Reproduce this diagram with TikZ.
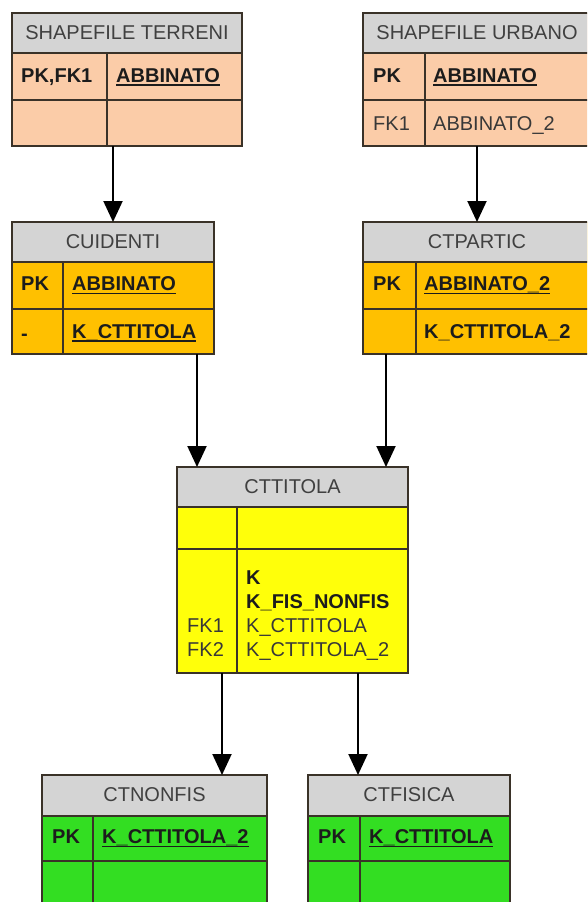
\documentclass[tikz,border=0pt]{standalone}
\usepackage{fontspec}
\setmainfont{Liberation Sans}
\usetikzlibrary{arrows.meta}

\definecolor{hdrgray}{HTML}{D4D4D4}
\definecolor{hdrtext}{HTML}{404040}
\definecolor{peach}{HTML}{FBCCA8}
\definecolor{amber}{HTML}{FFC000}
\definecolor{lemon}{HTML}{FFFF0A}
\definecolor{lime}{HTML}{33DE22}
\definecolor{edge}{HTML}{3A3228}
\definecolor{keytext}{HTML}{1C1C1C}
\definecolor{plaintext}{HTML}{383838}

% underline drawn at a fixed depth, so it merges with the underscores
\newsavebox\ulbox
\newcommand\ulname[1]{\sbox\ulbox{#1}\rlap{\rule[-3.5pt]{\wd\ulbox}{1.5pt}}\usebox\ulbox}

% table frame: name, left, top, right, column x, header bottom, row-1 bottom, bottom, fill
\newcommand\frametable[9]{%
  \node[tablebox, fill=#9, minimum width={#4pt-#2pt}, minimum height={#8pt-#3pt}] (#1) at (#2,#3) {};
  \fill[hdrgray] (#1.north west) rectangle (#4,#6);
  \draw[rule] (#2,#6) -- (#4,#6) (#2,#7) -- (#4,#7) (#5,#6) -- (#5,#8);
  \draw[rule] (#1.north west) rectangle (#1.south east);
}

\begin{document}
\begin{tikzpicture}[
  x=1pt, y=-1pt,
  tablebox/.style={anchor=north west, inner sep=0pt, outer sep=0pt, draw=none},
  rule/.style={draw=edge, line width=1.5pt},
  title/.style={anchor=base, inner sep=0pt, text=hdrtext, font=\fontsize{20}{24}\selectfont},
  keyt/.style={anchor=base west, inner sep=0pt, text=keytext, font=\fontsize{20}{24}\selectfont\bfseries},
  plain/.style={anchor=base west, inner sep=0pt, text=plaintext, font=\fontsize{20}{24}\selectfont},
  flow/.style={draw=black, line width=2pt, -{Triangle[length=21pt,width=19pt]}},
]
\useasboundingbox (0,0) rectangle (587,902);
\clip (0,0) rectangle (587,902);

% source shapefiles
\frametable{terreni}{12}{13}{242}{107}{53}{100}{146}{peach}
\frametable{urbano}{363}{13}{591}{425}{53}{100}{146}{peach}
% intermediate tables
\frametable{cuidenti}{12}{222}{214}{63}{262}{309}{354}{amber}
\frametable{ctpartic}{363}{222}{591}{416}{262}{309}{354}{amber}
% central table
\frametable{cttitola}{177}{467}{408}{237}{507}{549}{673}{lemon}
% subject tables
\frametable{ctnonfis}{42}{775}{267}{93}{816}{861}{920}{lime}
\frametable{ctfisica}{308}{775}{510}{360}{816}{861}{920}{lime}

% titles
\node[title] (terreni-t) at (127,39.5) {SHAPEFILE TERRENI};
\node[title] (urbano-t) at (477,39.5) {SHAPEFILE URBANO};
\node[title] (cuidenti-t) at (113,248.5) {CUIDENTI};
\node[title] (ctpartic-t) at (477,248.5) {CTPARTIC};
\node[title] (cttitola-t) at (292.5,493.5) {CTTITOLA};
\node[title] (ctnonfis-t) at (154.5,801.5) {CTNONFIS};
\node[title] (ctfisica-t) at (409,801.5) {CTFISICA};

% SHAPEFILE TERRENI fields
\node[keyt] (terreni-k1) at (21,82) {PK,FK1};
\node[keyt] (terreni-f1) at (116,82) {\ulname{ABBINATO}};

% SHAPEFILE URBANO fields
\node[keyt] (urbano-k1) at (373,82) {PK};
\node[keyt] (urbano-f1) at (433,82) {\ulname{ABBINATO}};
\node[plain] (urbano-k2) at (373,130) {FK1};
\node[plain] (urbano-f2) at (433,130) {ABBINATO\_2};

% CUIDENTI fields
\node[keyt] (cuidenti-k1) at (21,290.5) {PK};
\node[keyt] (cuidenti-f1) at (72,290.5) {\ulname{ABBINATO}};
\node[keyt] (cuidenti-k2) at (21,340) {-};
\node[keyt] (cuidenti-f2) at (72,338) {\ulname{K\_CTTITOLA}};

% CTPARTIC fields
\node[keyt] (ctpartic-k1) at (373,290.5) {PK};
\node[keyt] (ctpartic-f1) at (424,290.5) {\ulname{ABBINATO\_2}};
\node[keyt] (ctpartic-f2) at (424,338) {K\_CTTITOLA\_2};

% CTTITOLA fields
\node[keyt] (cttitola-f1) at (246,584) {K};
\node[keyt] (cttitola-f2) at (246,608) {K\_FIS\_NONFIS};
\node[plain] (cttitola-k3) at (187,632) {FK1};
\node[plain] (cttitola-f3) at (246,632) {K\_CTTITOLA};
\node[plain] (cttitola-k4) at (187,656) {FK2};
\node[plain] (cttitola-f4) at (246,656) {K\_CTTITOLA\_2};

% CTNONFIS fields
\node[keyt] (ctnonfis-k1) at (52,843.5) {PK};
\node[keyt] (ctnonfis-f1) at (102,843.5) {\ulname{K\_CTTITOLA\_2}};

% CTFISICA fields
\node[keyt] (ctfisica-k1) at (318,843.5) {PK};
\node[keyt] (ctfisica-f1) at (369,843.5) {\ulname{K\_CTTITOLA}};

% connectors
\coordinate (in1) at ([xshift=20pt]cttitola.north west);
\coordinate (in2) at ([xshift=-22pt]cttitola.north east);
\coordinate (out1) at ([xshift=45pt]cttitola.south west);
\coordinate (out2) at ([xshift=-50pt]cttitola.south east);

\draw[flow] (terreni.south -| cuidenti.north) -- (cuidenti.north);
\draw[flow] (urbano.south -| ctpartic.north) -- (ctpartic.north);
\draw[flow] (cuidenti.south -| in1) -- (in1);
\draw[flow] (ctpartic.south -| in2) -- (in2);
\draw[flow] (out1) -- (out1 |- ctnonfis.north);
\draw[flow] (out2) -- (out2 |- ctfisica.north);
\end{tikzpicture}
\end{document}
